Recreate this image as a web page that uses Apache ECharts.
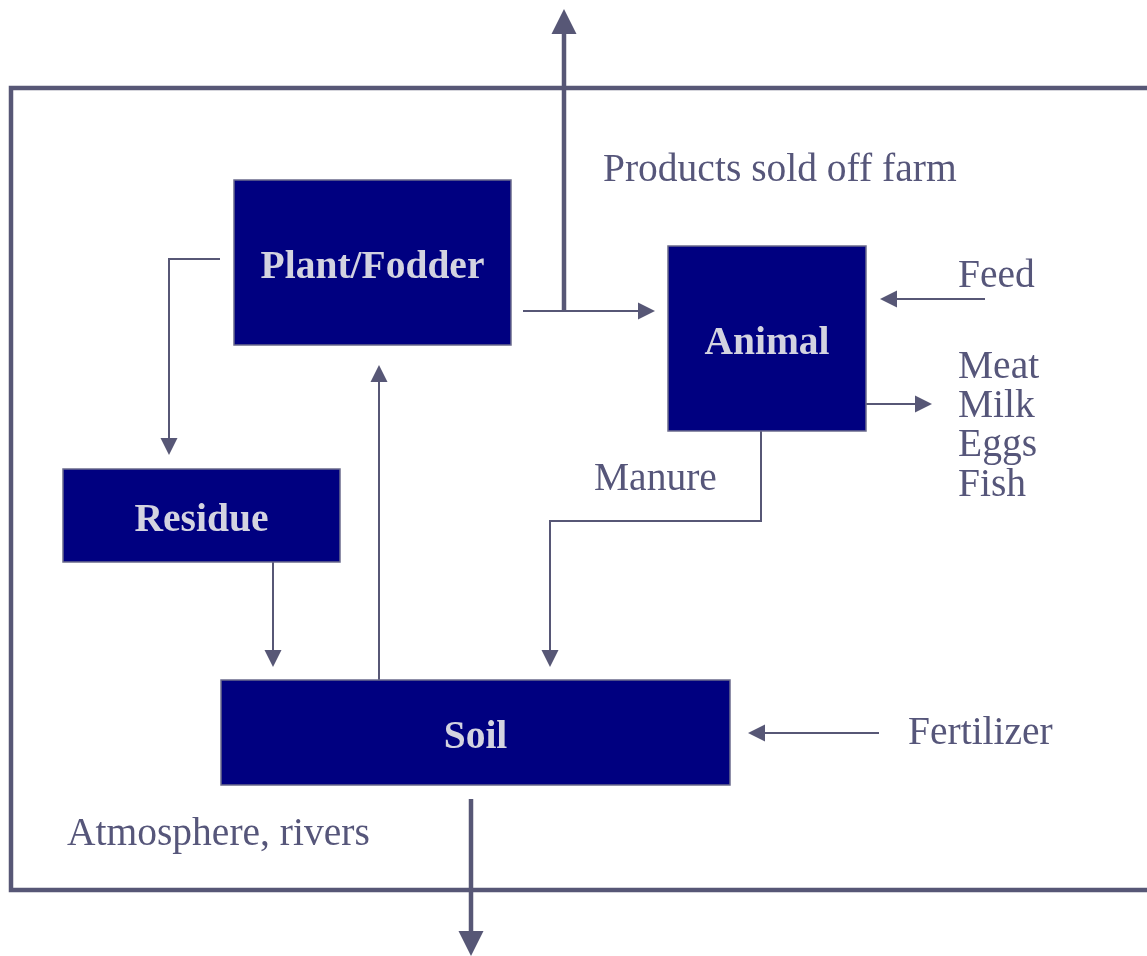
<!DOCTYPE html>
<html>
<head>
<meta charset="utf-8">
<title>Farm nutrient flows</title>
<script src="https://cdn.jsdelivr.net/npm/echarts@6/dist/echarts.min.js"></script>
<style>
  html, body { margin: 0; padding: 0; background: #fff; }
  #chart { width: 1147px; height: 956px; }
</style>
</head>
<body>
<div id="chart"></div>
<script>
// boxes of the diagram (page units, y grows downward)
const boxNames = ['Plant/Fodder', 'Animal', 'Residue', 'Soil']
const boxLeft = [234, 668, 63, 221]
const boxTop = [180, 246, 469, 680]
const boxRight = [511, 866, 340, 730]
const boxBottom = [345, 431, 562, 785]

// flows: every path ends at its arrow tip
const flowNames = [
  'Products sold off farm',
  'Plant to animal',
  'Plant to residue',
  'Residue to soil',
  'Soil to plant',
  'Manure',
  'Feed',
  'Animal products',
  'Fertilizer',
  'Losses to atmosphere, rivers',
]
const flowPaths = [
  [[564, 311], [564, 9]],
  [[523, 311], [655, 311]],
  [[220, 259], [169, 259], [169, 455]],
  [[273, 562], [273, 667]],
  [[379, 680], [379, 365]],
  [[761, 431], [761, 521], [550, 521], [550, 667]],
  [[985, 299], [880, 299]],
  [[866, 404], [932, 404]],
  [[879, 733], [748, 733]],
  [[471, 799], [471, 956]],
]
const flowMain = [true, false, false, false, false, false, false, false, false, true]

// farm boundary (open on the right)
const framePath = [[1150, 88], [11, 88], [11, 890], [1150, 890]]

// free text labels: left x, baseline y
const labelTexts = ['Products sold off farm', 'Feed', 'Meat', 'Milk', 'Eggs', 'Fish', 'Manure', 'Fertilizer', 'Atmosphere, rivers']
const labelX = [603, 958, 958, 958, 958, 958, 594, 908, 67]
const labelY = [180, 286, 377, 416, 455, 495, 489, 743, 844]

const lineColor = '#575776'
const boxFill = '#000080'
const boxEdge = '#6b6b8c'
const boxTextColor = '#d3d3e0'
const labelColor = '#56567a'
const serif = '"Liberation Serif", "Times New Roman", serif'
const fontPx = 39.5

const chart = echarts.init(document.getElementById('chart'))

function renderBox(params, api) {
  const i = api.value(0)
  const p0 = api.coord([boxLeft[i], boxTop[i]])
  const p1 = api.coord([boxRight[i], boxBottom[i]])
  return {
    type: 'group',
    children: [
      {
        type: 'rect',
        shape: { x: p0[0], y: p0[1], width: p1[0] - p0[0], height: p1[1] - p0[1] },
        style: { fill: boxFill, stroke: boxEdge, lineWidth: 1.5 },
      },
      {
        type: 'text',
        x: (p0[0] + p1[0]) / 2,
        y: (p0[1] + p1[1]) / 2 + 5,
        style: {
          text: boxNames[i],
          fill: boxTextColor,
          font: 'bold ' + fontPx + 'px ' + serif,
          textAlign: 'center',
          textVerticalAlign: 'middle',
        },
      },
    ],
  }
}

function renderFlow(params, api) {
  const i = api.value(0)
  const pts = flowPaths[i].map((p) => api.coord(p))
  const main = flowMain[i]
  const headLen = main ? 25 : 17
  const headW = main ? 25 : 17
  const tip = pts[pts.length - 1]
  const prev = pts[pts.length - 2]
  const dx = tip[0] - prev[0]
  const dy = tip[1] - prev[1]
  const len = Math.sqrt(dx * dx + dy * dy)
  const ux = dx / len
  const uy = dy / len
  const base = [tip[0] - ux * headLen, tip[1] - uy * headLen]
  const linePts = pts.slice(0, -1).concat([base])
  return {
    type: 'group',
    children: [
      {
        type: 'polyline',
        shape: { points: linePts },
        style: { stroke: lineColor, lineWidth: main ? 4.5 : 2, fill: null },
      },
      {
        type: 'polygon',
        shape: {
          points: [
            tip,
            [base[0] - uy * headW / 2, base[1] + ux * headW / 2],
            [base[0] + uy * headW / 2, base[1] - ux * headW / 2],
          ],
        },
        style: { fill: lineColor },
      },
    ],
  }
}

function renderFrame(params, api) {
  return {
    type: 'polyline',
    shape: { points: framePath.map((p) => api.coord(p)) },
    style: { stroke: lineColor, lineWidth: 4.5, fill: null },
  }
}

function renderLabel(params, api) {
  const i = api.value(0)
  const p = api.coord([labelX[i], labelY[i]])
  // middle of the caps sits ~9px above the baseline
  return {
    type: 'text',
    x: p[0],
    y: p[1] - 9,
    style: {
      text: labelTexts[i],
      fill: labelColor,
      font: fontPx + 'px ' + serif,
      textAlign: 'left',
      textVerticalAlign: 'middle',
    },
  }
}

const option = {
  backgroundColor: '#ffffff',
  animation: false,
  grid: { left: 0, right: 0, top: 0, bottom: 0 },
  xAxis: { type: 'value', min: 0, max: 1147, show: false },
  yAxis: { type: 'value', min: 0, max: 956, inverse: true, show: false },
  series: [
    {
      name: 'frame',
      type: 'custom',
      renderItem: renderFrame,
      data: [[0, 0]],
      silent: true,
    },
    {
      name: 'flows',
      type: 'custom',
      renderItem: renderFlow,
      data: flowNames.map((n, i) => ({ name: n, value: [i, 0] })),
      silent: true,
    },
    {
      name: 'boxes',
      type: 'custom',
      renderItem: renderBox,
      data: boxNames.map((n, i) => ({ name: n, value: [i, 0] })),
      silent: true,
    },
    {
      name: 'labels',
      type: 'custom',
      renderItem: renderLabel,
      data: labelTexts.map((t, i) => ({ name: t, value: [i, 0] })),
      silent: true,
    },
  ],
}

chart.setOption(option)

window.addEventListener('resize', () => {
  chart.resize()
})
</script>
</body>
</html>
